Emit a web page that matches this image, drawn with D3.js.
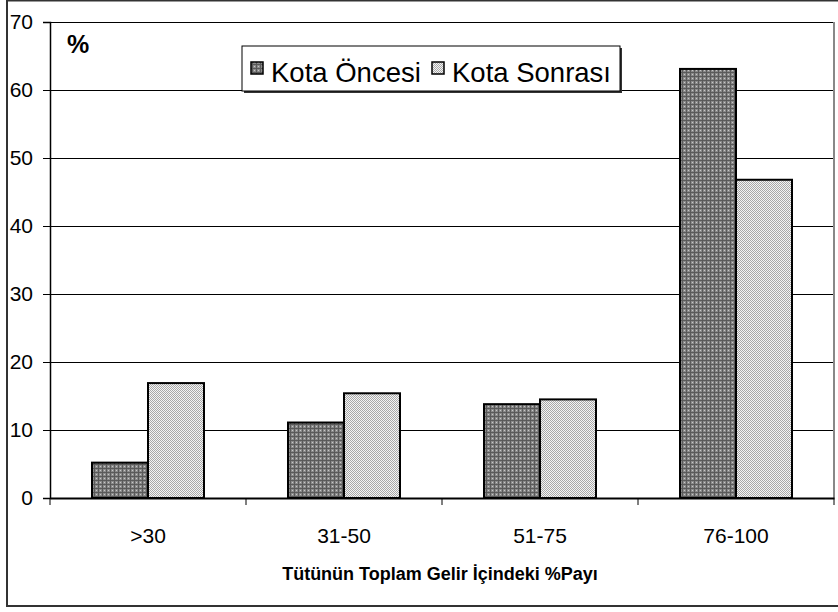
<!DOCTYPE html>
<html>
<head>
<meta charset="utf-8">
<script src="https://cdn.jsdelivr.net/npm/d3@7"></script>
<style>
  body { margin: 0; background: #fff; }
  text { font-family: Arial, "Liberation Sans", sans-serif; fill: #000; }
</style>
</head>
<body>
<div id="chart"></div>
<script>
// chart data
const categories = [">30", "31-50", "51-75", "76-100"];
const seriesNames = ["Kota Öncesi", "Kota Sonrası"];
const kotaOncesi = [5.2, 11.1, 13.8, 63.1];
const kotaSonrasi = [16.9, 15.4, 14.5, 46.8];
const yTicks = [0, 10, 20, 30, 40, 50, 60, 70];
const xTitle = "Tütünün Toplam Gelir İçindeki %Payı";

const width = 838, height = 612;
const margin = {top: 22, right: 3, bottom: 114, left: 50};

const svg = d3.select("#chart").append("svg")
    .attr("width", width)
    .attr("height", height);

// fill patterns
const defs = svg.append("defs");
const darkPat = defs.append("pattern")
    .attr("id", "darkPat").attr("patternUnits", "userSpaceOnUse")
    .attr("width", 4).attr("height", 4);
darkPat.append("rect").attr("width", 4).attr("height", 4).attr("fill", "#8a8a8a");
darkPat.append("rect").attr("x", 0).attr("y", 0).attr("width", 4).attr("height", 1).attr("fill", "#5a5a5a");
darkPat.append("rect").attr("x", 0).attr("y", 0).attr("width", 1).attr("height", 4).attr("fill", "#5a5a5a");
darkPat.append("rect").attr("x", 2).attr("y", 2).attr("width", 1).attr("height", 1).attr("fill", "#c8c8c8");

const lightPat = defs.append("pattern")
    .attr("id", "lightPat").attr("patternUnits", "userSpaceOnUse")
    .attr("width", 2).attr("height", 2);
lightPat.append("rect").attr("width", 2).attr("height", 2).attr("fill", "#f4f4f4");
lightPat.append("rect").attr("x", 0).attr("y", 0).attr("width", 1).attr("height", 1).attr("fill", "#a8a8a8");
lightPat.append("rect").attr("x", 1).attr("y", 1).attr("width", 1).attr("height", 1).attr("fill", "#a8a8a8");

const fills = ["url(#darkPat)", "url(#lightPat)"];

// outer frame
svg.append("rect")
    .attr("x", 7).attr("y", 0.5)
    .attr("width", width).attr("height", 605.5)
    .attr("fill", "none").attr("stroke", "#333").attr("stroke-width", 2);

const x0 = margin.left, x1 = width - margin.right - 1;
const yTop = margin.top, yBot = height - margin.bottom;

const x = d3.scaleBand().domain(categories).range([x0, x1]).padding(0);
const xs = d3.scaleBand().domain(seriesNames).range([0, x.bandwidth()])
    .paddingInner(0).paddingOuter(0.75);
const y = d3.scaleLinear().domain([0, 70]).range([yBot, yTop]);

// gridlines
svg.append("g").selectAll("line")
    .data(yTicks.filter(d => d > 0))
    .join("line")
    .attr("x1", x0).attr("x2", x1)
    .attr("y1", d => Math.round(y(d)) + 0.5).attr("y2", d => Math.round(y(d)) + 0.5)
    .attr("stroke", "#000").attr("stroke-width", 1);

// plot area right border
svg.append("line")
    .attr("x1", x1).attr("x2", x1).attr("y1", yTop).attr("y2", yBot)
    .attr("stroke", "#888").attr("stroke-width", 2);

// bars
const data = categories.map((c, i) => ({cat: c, vals: [kotaOncesi[i], kotaSonrasi[i]]}));
const groups = svg.append("g").selectAll("g")
    .data(data).join("g")
    .attr("transform", d => `translate(${x(d.cat)},0)`);
groups.selectAll("rect")
    .data(d => d.vals.map((v, j) => ({name: seriesNames[j], v: v, j: j})))
    .join("rect")
    .attr("x", d => xs(d.name))
    .attr("y", d => y(d.v))
    .attr("width", xs.bandwidth())
    .attr("height", d => yBot - y(d.v))
    .attr("fill", d => fills[d.j])
    .attr("stroke", "#000").attr("stroke-width", 2);

// y axis
const yAxis = svg.append("g")
    .attr("transform", `translate(${x0},0)`)
    .call(d3.axisLeft(y).tickValues(yTicks).tickSize(7).tickPadding(10).tickFormat(d3.format("d")));
yAxis.select(".domain").attr("stroke", "#000").attr("stroke-width", 1.5);
yAxis.selectAll(".tick line").attr("stroke", "#000");
yAxis.selectAll("text").style("font-size", "21px").attr("fill", "#000");

// x axis
const xAxis = svg.append("g")
    .attr("transform", `translate(0,${yBot})`)
    .call(d3.axisBottom(x).tickSize(0).tickPadding(30));
xAxis.select(".domain").attr("stroke", "#000").attr("stroke-width", 2);
xAxis.selectAll("text").style("font-size", "21px").attr("fill", "#000");
svg.append("g").selectAll("line")
    .data(categories.concat([null]))
    .join("line")
    .attr("x1", (d, i) => i < categories.length ? x(d) : x1)
    .attr("x2", (d, i) => i < categories.length ? x(d) : x1)
    .attr("y1", yBot).attr("y2", yBot + 7)
    .attr("stroke", "#000");

// x title
svg.append("text")
    .attr("x", (x0 + x1) / 2 - 2).attr("y", 580)
    .attr("text-anchor", "middle")
    .style("font-size", "18px").style("font-weight", "bold")
    .text(xTitle);

// % label
svg.append("text")
    .attr("x", 67).attr("y", 53)
    .style("font-size", "25px").style("font-weight", "bold")
    .text("%");

// legend
const leg = svg.append("g");
leg.append("rect").attr("x", 244).attr("y", 48).attr("width", 378).attr("height", 45).attr("fill", "#333");
leg.append("rect").attr("x", 242).attr("y", 46).attr("width", 378).attr("height", 45)
    .attr("fill", "#fff").attr("stroke", "#000").attr("stroke-width", 1);
const legX = [251, 432];
seriesNames.forEach((s, i) => {
    leg.append("rect").attr("x", legX[i]).attr("y", 62).attr("width", 12).attr("height", 12)
        .attr("fill", fills[i]).attr("stroke", "#000").attr("stroke-width", 1.5);
    leg.append("text").attr("x", legX[i] + 20).attr("y", 82)
        .style("font-size", "27.5px").text(s);
});
</script>
</body>
</html>
